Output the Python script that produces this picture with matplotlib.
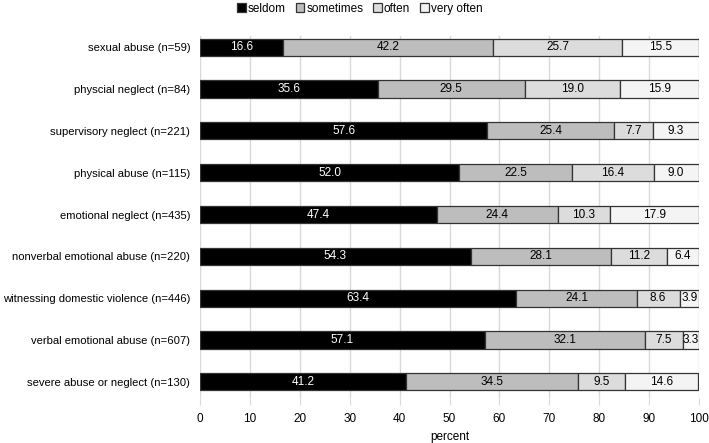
import matplotlib
matplotlib.use("Agg")
import matplotlib.pyplot as plt
import numpy as np

plt.rcParams["font.family"] = ["Liberation Sans", "DejaVu Sans"]

# ── Data ────────────────────────────────────────────────────────────────────
categories = [
    "sexual abuse (n=59)",
    "physcial neglect (n=84)",
    "supervisory neglect (n=221)",
    "physical abuse (n=115)",
    "emotional neglect (n=435)",
    "nonverbal emotional abuse (n=220)",
    "witnessing domestic violence (n=446)",
    "verbal emotional abuse (n=607)",
    "severe abuse or neglect (n=130)",
]
seldom = [16.6, 35.6, 57.6, 52.0, 47.4, 54.3, 63.4, 57.1, 41.2]
sometimes = [42.2, 29.5, 25.4, 22.5, 24.4, 28.1, 24.1, 32.1, 34.5]
often = [25.7, 19.0, 7.7, 16.4, 10.3, 11.2, 8.6, 7.5, 9.5]
very_often = [15.5, 15.9, 9.3, 9.0, 17.9, 6.4, 3.9, 3.3, 14.6]

series_names = ["seldom", "sometimes", "often", "very often"]
series_values = [seldom, sometimes, often, very_often]
COLOURS = ["#000000", "#BDBDBD", "#DCDCDC", "#F4F4F4"]
TEXT_COLOURS = ["white", "black", "black", "black"]

fig = plt.figure(figsize=(7.09, 4.43), dpi=100)
ax = fig.add_axes([0.282, 0.102, 0.704, 0.817])

y = np.arange(len(categories))
left = np.zeros(len(categories))
for name, vals, col, tcol in zip(series_names, series_values, COLOURS, TEXT_COLOURS):
    vals = np.array(vals)
    ax.barh(y, vals, left=left, height=0.41, color=col, edgecolor="#333333",
            linewidth=0.9, label=name, zorder=3)
    for yi, l, v in zip(y, left, vals):
        ax.text(l + v / 2, yi, f"{v:.1f}", ha="center", va="center",
                fontsize=8.5, color=tcol, zorder=4)
    left += vals

ax.set_xlim(0, 100)
ax.set_ylim(len(categories) - 1 + 0.38, -0.27)
ax.set_xticks(np.arange(0, 101, 10))
ax.set_yticks(y)
ax.set_yticklabels(categories, fontsize=8.1)
ax.tick_params(axis="x", labelsize=8.5, length=5, color="#D9D9D9", pad=6)
ax.tick_params(axis="y", length=0, pad=7)
ax.set_xlabel("percent", fontsize=8.5, labelpad=4)
ax.grid(axis="x", color="#D9D9D9", linewidth=1, zorder=0)
for s in ax.spines.values():
    s.set_visible(False)

ax.legend(loc="upper center", bbox_to_anchor=(0.32, 1.105), ncol=4,
          frameon=False, fontsize=8.5, handlelength=0.75, handleheight=0.75,
          handletextpad=0.15, columnspacing=0.85, borderaxespad=0)

fig.savefig("out.png", dpi=100, facecolor="white")
